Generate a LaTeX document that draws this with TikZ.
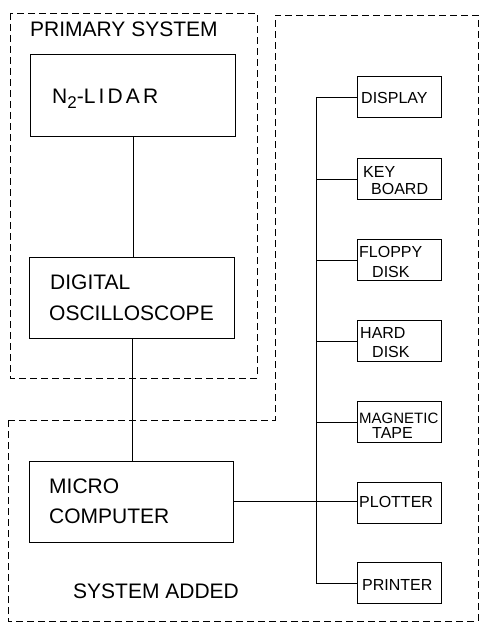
\documentclass[tikz,border=0pt]{standalone}
\usepackage{fontspec}
\setmainfont{Liberation Sans}
\newfontfamily\spaced[LetterSpace=15]{Liberation Sans}
\begin{document}
\begin{tikzpicture}[x=1pt,y=-1pt,
  box/.style={draw,line width=1pt,rectangle,inner sep=0pt},
  bigbox/.style={box,minimum width=205pt,minimum height=81pt},
  smallbox/.style={box,minimum width=84pt,minimum height=41pt},
  region/.style={draw,line width=0.9pt,dash pattern=on 7pt off 4pt},
  wire/.style={draw,line width=0.9pt},
  bigtxt/.style={inner sep=0pt,anchor=base west,font=\fontsize{21}{25}\selectfont},
  smalltxt/.style={inner sep=0pt,anchor=base west,font=\fontsize{16}{19}\selectfont}]
\useasboundingbox (0,0) rectangle (480,623);
% dashed regions
\draw[region] (10,13) rectangle (257,378);
\draw[region] (8,420) -- (275,420) -- (275,15) -- (478,15) -- (478,621) -- (8,621) -- cycle;
% main boxes
\node[bigbox] (lidar) at (133,95.5) {};
\node[bigbox] (dso) at (132,298) {};
\node[bigbox,minimum width=204pt] (mc) at (131,501.5) {};
% peripheral boxes
\node[smallbox] (display) at (399,97) {};
\node[smallbox] (kb) at (399,179) {};
\node[smallbox] (floppy) at (399,260) {};
\node[smallbox] (hard) at (399,341) {};
\node[smallbox] (tape) at (399,422) {};
\node[smallbox] (plotter) at (399,502.5) {};
\node[smallbox] (printer) at (399,583) {};
\coordinate (busx) at (316,0);
% connectors
\draw[wire] (lidar.south) -- (lidar.south |- dso.north);
\draw[wire] (dso.south) -- (dso.south |- mc.north);
\draw[wire] (mc.east) -- (mc.east -| plotter.west);
\draw[wire] (display.west) -- (display.west -| busx) -- (printer.west -| busx) -- (printer.west);
\foreach \b in {kb,floppy,hard,tape}{\draw[wire] (\b.west) -- (\b.west -| busx);}
% texts
\node[bigtxt] (tprim) at (30,37) {PRIMARY SYSTEM};
\node[bigtxt] (tlidar) at (52,104) {N\raisebox{-5pt}{\fontsize{17}{17}\selectfont 2}-{\spaced LIDAR}};
\node[bigtxt] (tdig) at (50,289) {DIGITAL};
\node[bigtxt] (tosc) at (49,320) {OSCILLOSCOPE};
\node[bigtxt] (tmicro) at (49,493) {MICRO};
\node[bigtxt] (tcomp) at (49,523) {COMPUTER};
\node[bigtxt] (tadded) at (73,598) {SYSTEM ADDED};
\node[smalltxt] (tdisp) at (361,104) {DISPLAY};
\node[smalltxt] (tkey) at (363,177) {KEY};
\node[smalltxt] (tboard) at (371,194) {BOARD};
\node[smalltxt] (tflop) at (359,257) {FLOPPY};
\node[smalltxt] (tfdisk) at (372,277) {DISK};
\node[smalltxt] (thard) at (360,338) {HARD};
\node[smalltxt] (thdisk) at (372,357) {DISK};
\node[smalltxt,font=\fontsize{15}{18}\selectfont] (tmag) at (359,423) {MAGNETIC};
\node[smalltxt] (ttape) at (372,438) {TAPE};
\node[smalltxt] (tplot) at (359,507) {PLOTTER};
\node[smalltxt] (tprint) at (362,590) {PRINTER};
\end{tikzpicture}
\end{document}
